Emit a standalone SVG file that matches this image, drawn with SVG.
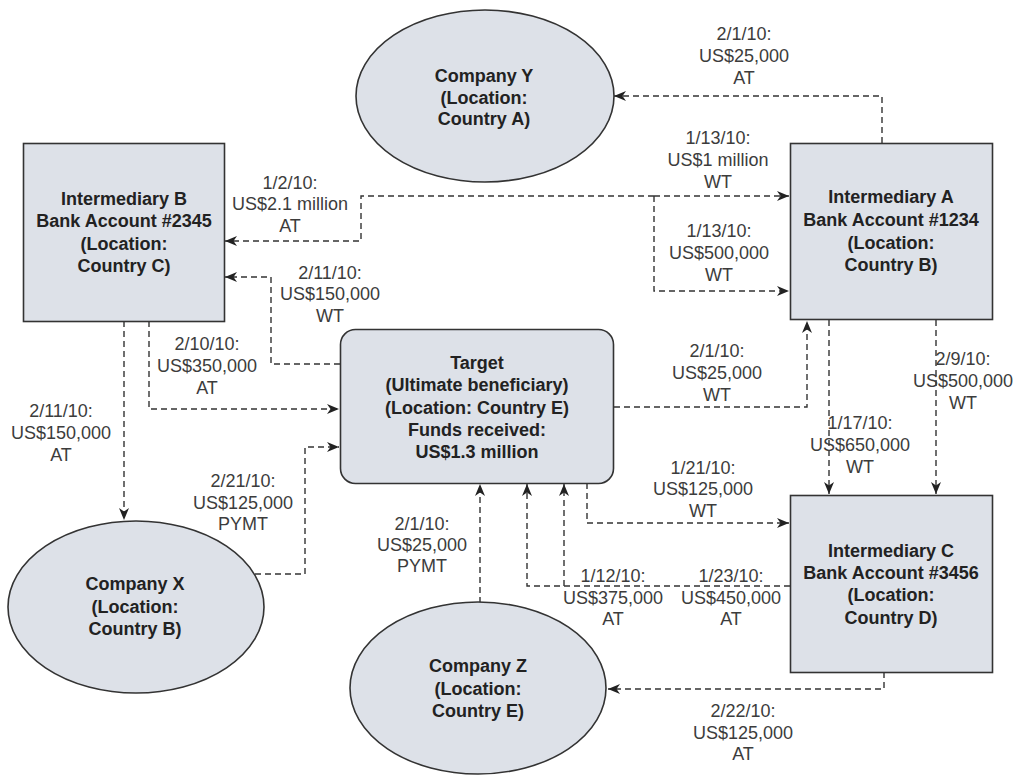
<svg xmlns="http://www.w3.org/2000/svg" width="1021" height="778" viewBox="0 0 1021 778">
<defs>
<marker id="arr" viewBox="0 0 12 10" refX="12" refY="5" markerWidth="12" markerHeight="10" markerUnits="userSpaceOnUse" orient="auto">
<path d="M0,0 L12,5 L0,10 L3.5,5 z" fill="#222"/>
</marker>
<style>
.node{fill:#dde1e8;stroke:#333;stroke-width:1.6}
.nt{font-family:"Liberation Sans",Arial,sans-serif;font-size:18px;font-weight:bold;fill:#222;text-anchor:middle}
.lb{font-family:"Liberation Sans",Arial,sans-serif;font-size:18px;fill:#3c3c3c;text-anchor:middle}
.cn{fill:none;stroke:#333;stroke-width:1.4;stroke-dasharray:6 4}
.ar{marker-end:url(#arr)}
</style>
</defs>
<rect width="1021" height="778" fill="#fff"/>

<g id="connectors">
<path class="cn ar" d="M882,143 V96 H614"/>
<path class="cn ar" d="M654,196 H361 V241 H225"/>
<path class="cn ar" d="M654,196 H789"/>
<path class="cn ar" d="M654,196 V291 H789"/>
<path class="cn ar" d="M340,364 H271 V277 H225"/>
<path class="cn ar" d="M149,321 V409 H339"/>
<path class="cn ar" d="M124,321 V520"/>
<path class="cn ar" d="M255,574 H305 V447 H339"/>
<path class="cn ar" d="M480,603 V484"/>
<path class="cn ar" d="M790,586 H527 V484"/>
<path class="cn ar" d="M564,586 V484"/>
<path class="cn ar" d="M587,483 V523 H789"/>
<path class="cn ar" d="M614,407 H807 V321"/>
<path class="cn ar" d="M829,320 V494"/>
<path class="cn ar" d="M936,320 V494"/>
<path class="cn ar" d="M884,672 V689 H608"/>
</g>

<g id="labels">
<text class="lb"><tspan x="744" y="40">2/1/10:</tspan><tspan x="744" y="62">US$25,000</tspan><tspan x="744" y="84">AT</tspan></text>
<text class="lb"><tspan x="718" y="144">1/13/10:</tspan><tspan x="718" y="166">US$1 million</tspan><tspan x="718" y="188">WT</tspan></text>
<text class="lb"><tspan x="719" y="237">1/13/10:</tspan><tspan x="719" y="259">US$500,000</tspan><tspan x="719" y="281">WT</tspan></text>
<text class="lb"><tspan x="290" y="189">1/2/10:</tspan><tspan x="290" y="210">US$2.1 million</tspan><tspan x="290" y="232">AT</tspan></text>
<text class="lb"><tspan x="330" y="279">2/11/10:</tspan><tspan x="330" y="300">US$150,000</tspan><tspan x="330" y="322">WT</tspan></text>
<text class="lb"><tspan x="207" y="350">2/10/10:</tspan><tspan x="207" y="372">US$350,000</tspan><tspan x="207" y="394">AT</tspan></text>
<text class="lb"><tspan x="61" y="417">2/11/10:</tspan><tspan x="61" y="439">US$150,000</tspan><tspan x="61" y="461">AT</tspan></text>
<text class="lb"><tspan x="243" y="487">2/21/10:</tspan><tspan x="243" y="509">US$125,000</tspan><tspan x="243" y="530">PYMT</tspan></text>
<text class="lb"><tspan x="422" y="530">2/1/10:</tspan><tspan x="422" y="551">US$25,000</tspan><tspan x="422" y="572">PYMT</tspan></text>
<text class="lb"><tspan x="717" y="357">2/1/10:</tspan><tspan x="717" y="379">US$25,000</tspan><tspan x="717" y="401">WT</tspan></text>
<text class="lb"><tspan x="963" y="365">2/9/10:</tspan><tspan x="963" y="387">US$500,000</tspan><tspan x="963" y="409">WT</tspan></text>
<text class="lb"><tspan x="860" y="429">1/17/10:</tspan><tspan x="860" y="451">US$650,000</tspan><tspan x="860" y="473">WT</tspan></text>
<text class="lb"><tspan x="703" y="474">1/21/10:</tspan><tspan x="703" y="495">US$125,000</tspan><tspan x="703" y="517">WT</tspan></text>
<text class="lb"><tspan x="613" y="582">1/12/10:</tspan><tspan x="613" y="604">US$375,000</tspan><tspan x="613" y="625">AT</tspan></text>
<text class="lb"><tspan x="731" y="582">1/23/10:</tspan><tspan x="731" y="604">US$450,000</tspan><tspan x="731" y="625">AT</tspan></text>
<text class="lb"><tspan x="743" y="717">2/22/10:</tspan><tspan x="743" y="739">US$125,000</tspan><tspan x="743" y="760">AT</tspan></text>
</g>

<g id="company-y">
<ellipse class="node" cx="485" cy="96" rx="129" ry="86"/>
<text class="nt"><tspan x="484" y="82">Company Y</tspan><tspan x="484" y="104">(Location:</tspan><tspan x="484" y="125">Country A)</tspan></text>
</g>

<g id="intermediary-b">
<rect class="node" x="23.5" y="143.5" width="201" height="178"/>
<text class="nt"><tspan x="124" y="205">Intermediary B</tspan><tspan x="124" y="227">Bank Account #2345</tspan><tspan x="124" y="250">(Location:</tspan><tspan x="124" y="272">Country C)</tspan></text>
</g>

<g id="intermediary-a">
<rect class="node" x="790.5" y="143.5" width="202" height="176"/>
<text class="nt"><tspan x="891" y="203">Intermediary A</tspan><tspan x="891" y="226">Bank Account #1234</tspan><tspan x="891" y="249">(Location:</tspan><tspan x="891" y="271">Country B)</tspan></text>
</g>

<g id="target">
<rect class="node" x="340.5" y="329.5" width="273" height="154" rx="15" ry="15"/>
<text class="nt"><tspan x="477" y="369">Target</tspan><tspan x="477" y="391">(Ultimate beneficiary)</tspan><tspan x="477" y="414">(Location: Country E)</tspan><tspan x="477" y="436">Funds received:</tspan><tspan x="477" y="458">US$1.3 million</tspan></text>
</g>

<g id="intermediary-c">
<rect class="node" x="790.5" y="495.5" width="202" height="177"/>
<text class="nt"><tspan x="891" y="557">Intermediary C</tspan><tspan x="891" y="579">Bank Account #3456</tspan><tspan x="891" y="601">(Location:</tspan><tspan x="891" y="624">Country D)</tspan></text>
</g>

<g id="company-x">
<ellipse class="node" cx="136" cy="607" rx="128" ry="86"/>
<text class="nt"><tspan x="135" y="590">Company X</tspan><tspan x="135" y="613">(Location:</tspan><tspan x="135" y="635">Country B)</tspan></text>
</g>

<g id="company-z">
<ellipse class="node" cx="478" cy="688" rx="128" ry="86"/>
<text class="nt"><tspan x="478" y="672">Company Z</tspan><tspan x="478" y="695">(Location:</tspan><tspan x="478" y="717">Country E)</tspan></text>
</g>
</svg>
